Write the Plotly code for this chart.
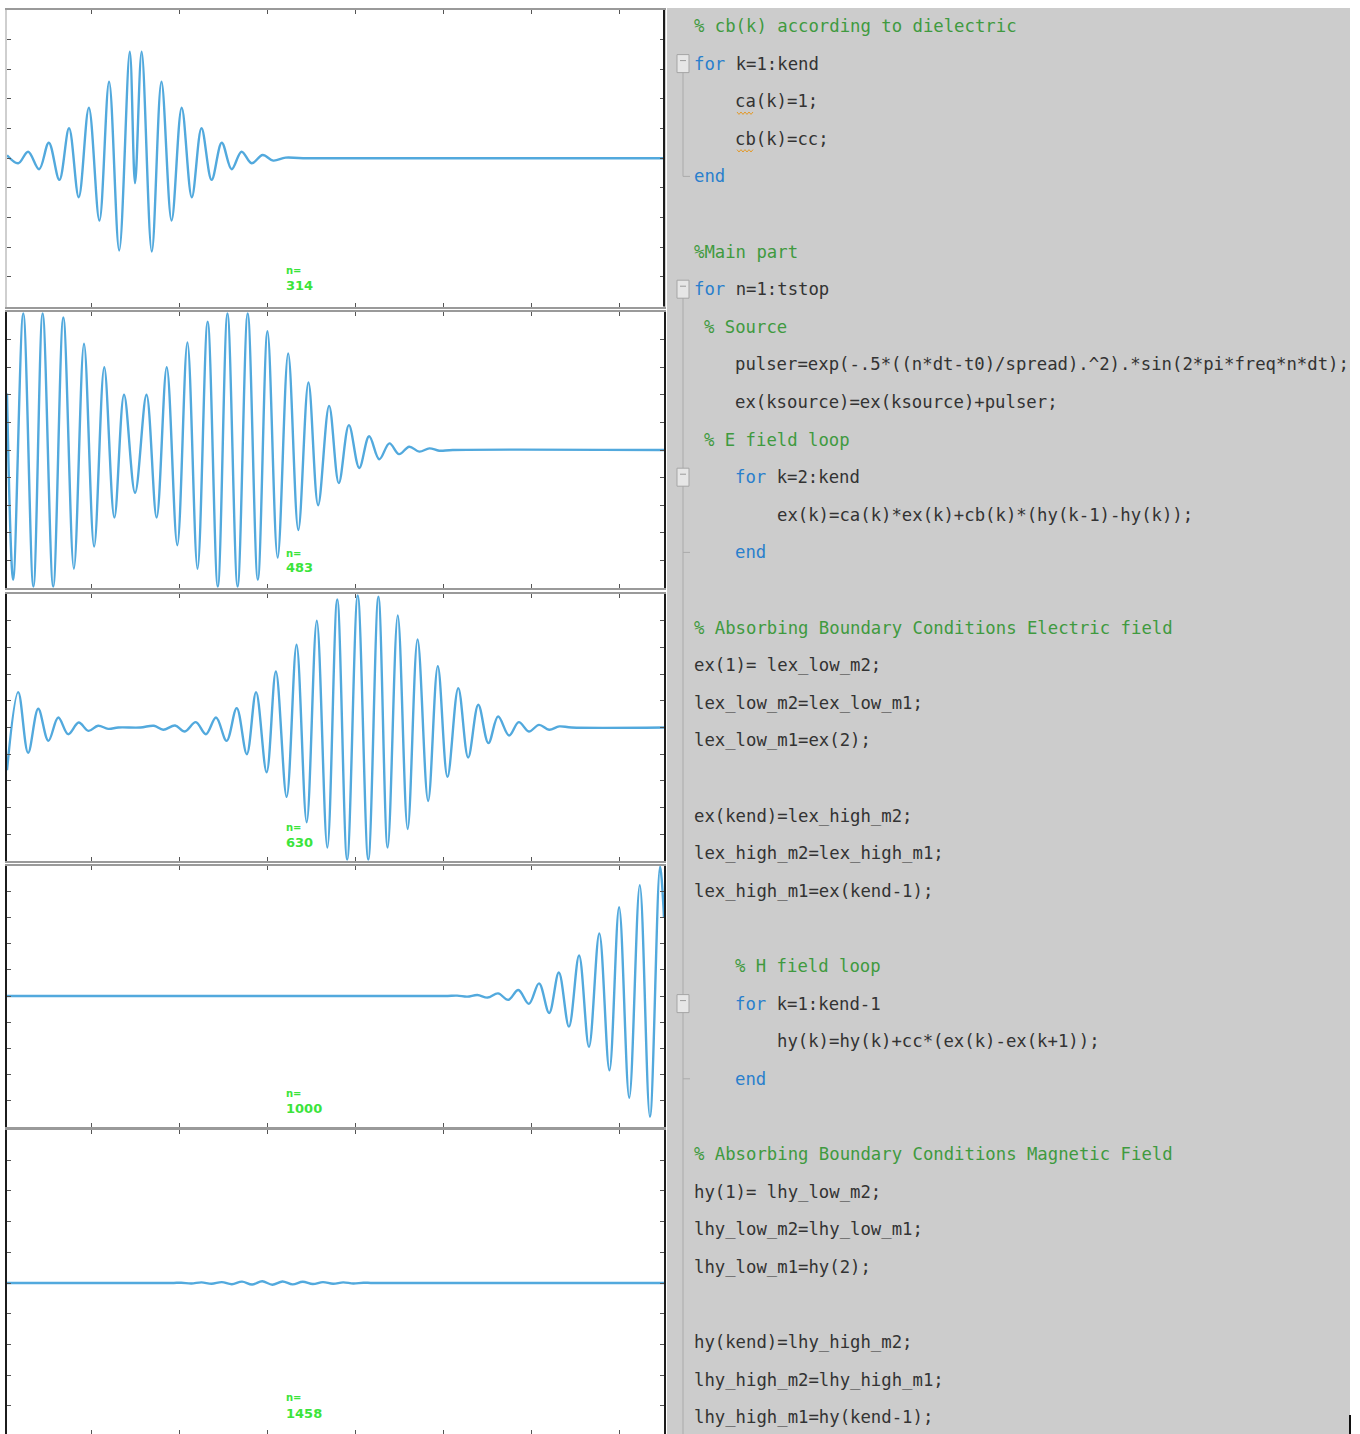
import plotly.graph_objects as go

W, H = 1360, 1434

# time step of each Ex snapshot
STEPS = [314, 483, 630, 1000, 1458]

# Ex(k) snapshots: cell index k and field amplitude at the turning points
K1 = [0.7, 3.25, 5.5, 8.0, 10.2, 12.6, 14.8, 17.0, 19.3, 21.7, 23.9, 26.2, 28.6, 29.8,
      31.3, 33.6, 35.8, 38.1, 40.4, 42.7, 44.9, 47.2, 49.5, 51.75, 54.0, 56.3, 58.8,
      61.2, 64.0, 68.0, 150]
E1 = [0.02, -0.034, 0.044, -0.074, 0.105, -0.146, 0.202, -0.263, 0.341, -0.420, 0.516,
      -0.622, 0.718, -0.168, 0.718, -0.629, 0.516, -0.420, 0.341, -0.263, 0.202, -0.146,
      0.105, -0.074, 0.044, -0.034, 0.022, -0.016, 0.004, 0.0, 0.0]

K2 = [0.7, 2.1, 4.4, 6.7, 8.8, 11.2, 13.5, 15.9, 18.2, 20.5, 22.8, 25.1, 27.3, 29.8,
      32.4, 34.7, 37.0, 39.4, 41.7, 44.0, 46.3, 48.6, 50.8, 53.1, 55.4, 57.7, 59.9,
      62.2, 64.6, 66.9, 69.2, 71.4, 73.9, 76.1, 78.4, 80.75, 83.0, 85.3, 87.6, 89.8,
      92.1, 94.4, 96.7, 98.9, 102.0, 150]
E2 = [0.41, -0.94, 0.99, -0.99, 0.99, -0.99, 0.96, -0.86, 0.77, -0.70, 0.60, -0.49,
      0.40, -0.31, 0.40, -0.49, 0.60, -0.69, 0.78, -0.86, 0.93, -0.99, 0.99, -0.99,
      0.99, -0.94, 0.86, -0.78, 0.70, -0.58, 0.49, -0.40, 0.32, -0.24, 0.18, -0.13,
      0.10, -0.067, 0.048, -0.03, 0.024, -0.012, 0.012, -0.005, 0.0, 0.0]

K3 = [0.7, 3.25, 5.5, 7.8, 10.1, 12.35, 14.6, 17.0, 19.2, 21.4, 23.7, 26.0, 31.0, 34.1,
      36.2, 38.9, 41.1, 43.6, 45.9, 48.2, 50.6, 52.9, 55.2, 57.3, 59.7, 61.8, 64.25,
      66.5, 68.8, 71.1, 73.5, 75.75, 78.0, 80.4, 82.8, 85.1, 87.2, 89.5, 91.75, 94.0,
      96.4, 98.6, 100.8, 103.25, 105.5, 107.8, 110.1, 112.3, 114.8, 117.0, 119.3,
      121.6, 123.9, 126.2, 129.0, 150]
E3 = [-0.32, 0.265, -0.19, 0.14, -0.10, 0.075, -0.05, 0.037, -0.025, 0.013, -0.01, 0.0,
      0.0, 0.013, -0.017, 0.015, -0.03, 0.04, -0.05, 0.075, -0.10, 0.145, -0.20, 0.265,
      -0.335, 0.42, -0.52, 0.62, -0.71, 0.80, -0.90, 0.96, -0.99, 0.99, -0.99, 0.98,
      -0.90, 0.84, -0.76, 0.66, -0.55, 0.46, -0.37, 0.295, -0.225, 0.17, -0.117, 0.082,
      -0.06, 0.04, -0.03, 0.02, -0.017, 0.008, 0.0, 0.0]

K4 = [0.7, 100.0, 103.0, 105.3, 107.6, 109.9, 112.3, 114.6, 116.9, 119.3, 121.6, 123.9,
      126.1, 128.4, 130.7, 132.95, 135.3, 137.6, 139.8, 142.1, 144.5, 146.8, 149.1, 150]
E4 = [0.0, 0.0, 0.003, -0.005, 0.008, -0.012, 0.02, -0.03, 0.046, -0.06, 0.097, -0.13,
      0.18, -0.235, 0.31, -0.39, 0.48, -0.57, 0.68, -0.78, 0.85, -0.925, 0.99, 0.6]

K5 = [0.7, 38.0, 40.3, 42.6, 44.9, 47.2, 49.5, 51.8, 54.1, 56.4, 58.7, 61.0, 63.3, 65.6,
      67.9, 70.2, 72.5, 74.8, 77.1, 79.4, 81.7, 84.0, 150]
E5 = [0.0, 0.0, 0.002, -0.003, 0.004, -0.005, 0.006, -0.008, 0.009, -0.010, 0.011,
      -0.011, 0.010, -0.009, 0.008, -0.007, 0.006, -0.005, 0.004, -0.003, 0.002, 0.0, 0.0]

SNAPSHOTS = [(K1, E1), (K2, E2), (K3, E3), (K4, E4), (K5, E5)]
X_TICKS = [20, 40, 60, 80, 100, 120, 140]
Y_TICKS = [-0.8, -0.6, -0.4, -0.2, 0, 0.2, 0.4, 0.6, 0.8]

# editor listing: indent level and (style, text) runs
CODE = [
    (0, [("c", "% cb(k) according to dielectric")]),
    (0, [("k", "for\u00a0"), ("t", "k=1:kend")]),
    (1, [("t", "ca(k)=1;")]),
    (1, [("t", "cb(k)=cc;")]),
    (0, [("k", "end")]),
    (0, []),
    (0, [("c", "%Main part")]),
    (0, [("k", "for\u00a0"), ("t", "n=1:tstop")]),
    (0.5, [("c", "% Source")]),
    (1, [("t", "pulser=exp(-.5*((n*dt-t0)/spread).^2).*sin(2*pi*freq*n*dt);")]),
    (1, [("t", "ex(ksource)=ex(ksource)+pulser;")]),
    (0.5, [("c", "% E field loop")]),
    (1, [("k", "for\u00a0"), ("t", "k=2:kend")]),
    (2, [("t", "ex(k)=ca(k)*ex(k)+cb(k)*(hy(k-1)-hy(k));")]),
    (1, [("k", "end")]),
    (0, []),
    (0, [("c", "% Absorbing Boundary Conditions Electric field")]),
    (0, [("t", "ex(1)=\u00a0lex_low_m2;")]),
    (0, [("t", "lex_low_m2=lex_low_m1;")]),
    (0, [("t", "lex_low_m1=ex(2);")]),
    (0, []),
    (0, [("t", "ex(kend)=lex_high_m2;")]),
    (0, [("t", "lex_high_m2=lex_high_m1;")]),
    (0, [("t", "lex_high_m1=ex(kend-1);")]),
    (0, []),
    (1, [("c", "% H field loop")]),
    (1, [("k", "for\u00a0"), ("t", "k=1:kend-1")]),
    (2, [("t", "hy(k)=hy(k)+cc*(ex(k)-ex(k+1));")]),
    (1, [("k", "end")]),
    (0, []),
    (0, [("c", "% Absorbing Boundary Conditions Magnetic Field")]),
    (0, [("t", "hy(1)=\u00a0lhy_low_m2;")]),
    (0, [("t", "lhy_low_m2=lhy_low_m1;")]),
    (0, [("t", "lhy_low_m1=hy(2);")]),
    (0, []),
    (0, [("t", "hy(kend)=lhy_high_m2;")]),
    (0, [("t", "lhy_high_m2=lhy_high_m1;")]),
    (0, [("t", "lhy_high_m1=hy(kend-1);")]),
]
FOLD_LINES = [1, 7, 12, 26]
INNER_END_LINES = [14, 28]


def fx(px):
    return px / W


def fy(py):
    return 1 - py / H


fig = go.Figure()
layout = dict(
    width=W, height=H, margin=dict(l=0, r=0, t=0, b=0),
    paper_bgcolor="white", plot_bgcolor="white", showlegend=False,
)
shapes = []
annotations = []

# ---- field snapshots -------------------------------------------------------
panel_px = [(10, 306.5), (312, 588), (594, 861), (865.5, 1126.5), (1129.5, 1436.5)]
left_dark = [False, True, True, True, True]
right_dark = [True, True, False, False, True]
X0, X1 = 7, 664
label_y = [(270, 285), (554, 568), (827, 842), (1093, 1108), (1397, 1413)]

for i, ((k, e), (top, bot)) in enumerate(zip(SNAPSHOTS, panel_px), start=1):
    half = (bot - top) / 2
    lo = -1.0
    bot_c = bot
    if bot > H:
        bot_c = H
        lo = 1 - (H - top) / half
    fig.add_trace(go.Scatter(
        x=k, y=e, mode="lines",
        line=dict(color="#52a9dd", width=2.4, shape="spline", smoothing=1.0),
        xaxis=f"x{i}", yaxis=f"y{i}", hoverinfo="skip",
    ))
    common = dict(showline=True, mirror="ticks", ticks="inside", ticklen=4, tickwidth=1,
                  tickcolor="#555555", showticklabels=False, showgrid=False,
                  zeroline=False, fixedrange=True)
    layout[f"xaxis{i}"] = dict(domain=[fx(X0), fx(X1)], range=[0.7, 150],
                               tickvals=X_TICKS, linecolor="#9a9a9a", linewidth=2,
                               anchor=f"y{i}", **common)
    layout[f"yaxis{i}"] = dict(domain=[fy(bot_c), fy(top)], range=[lo, 1],
                               tickvals=Y_TICKS,
                               linecolor="#1c1c1c" if left_dark[i - 1] else "#cfcfcf",
                               linewidth=2, anchor=f"x{i}", **common)
    if right_dark[i - 1] and not left_dark[i - 1]:
        shapes.append(dict(type="line", xref="paper", yref="paper",
                           x0=fx(X1), x1=fx(X1), y0=fy(bot_c), y1=fy(top),
                           line=dict(color="#1c1c1c", width=2)))
    ly1, ly2 = label_y[i - 1]
    annotations.append(dict(text="<b>n=</b>", xref="paper", yref="paper",
                            x=fx(285), y=fy(ly1), xanchor="left", yanchor="middle",
                            showarrow=False, borderpad=0,
                            font=dict(family="DejaVu Sans", size=10, color="#3be43b")))
    annotations.append(dict(text=f"<b>{STEPS[i - 1]}</b>", xref="paper", yref="paper",
                            x=fx(285), y=fy(ly2), xanchor="left", yanchor="middle",
                            showarrow=False, borderpad=0,
                            font=dict(family="DejaVu Sans", size=13, color="#3be43b")))

# ---- editor listing --------------------------------------------------------
shapes.append(dict(type="rect", xref="paper", yref="paper", layer="below",
                   x0=fx(667), x1=fx(1350), y0=0, y1=fy(8),
                   fillcolor="#cccccc", line=dict(width=0)))
shapes.append(dict(type="line", xref="paper", yref="paper",
                   x0=fx(1350), x1=fx(1350), y0=0, y1=fy(1415),
                   line=dict(color="#111111", width=2)))

COLORS = {"c": "#3f9a3f", "k": "#2a7fcc", "t": "#333333"}
INDENT_PX = {0: 694, 0.5: 704, 1: 735, 2: 777}
LINE0, LINE_STEP = 26, 37.6


def line_y(n):
    return LINE0 + LINE_STEP * n


for n, (lvl, runs) in enumerate(CODE):
    if not runs:
        continue
    txt = "".join(f"<span style='color:{COLORS[s]}'>{t}</span>" for s, t in runs)
    annotations.append(dict(text=txt, xref="paper", yref="paper",
                            x=fx(INDENT_PX[lvl] - 2), y=fy(line_y(n)),
                            xanchor="left", yanchor="middle", showarrow=False,
                            font=dict(family="DejaVu Sans Mono", size=17.3,
                                      color=COLORS["t"])))

# code-folding gutter
GUT = 683
gut = dict(color="#aaaaaa", width=1)
shapes.append(dict(type="line", xref="paper", yref="paper", x0=fx(GUT), x1=fx(GUT),
                   y0=fy(line_y(4)), y1=fy(line_y(1) + 8), line=gut))
shapes.append(dict(type="line", xref="paper", yref="paper", x0=fx(GUT), x1=fx(GUT + 7),
                   y0=fy(line_y(4)), y1=fy(line_y(4)), line=gut))
shapes.append(dict(type="line", xref="paper", yref="paper", x0=fx(GUT), x1=fx(GUT),
                   y0=0, y1=fy(line_y(7) + 8), line=gut))
for n in INNER_END_LINES:
    shapes.append(dict(type="line", xref="paper", yref="paper", x0=fx(GUT),
                       x1=fx(GUT + 7), y0=fy(line_y(n)), y1=fy(line_y(n)), line=gut))
for n in FOLD_LINES:
    yc = line_y(n)
    shapes.append(dict(type="rect", xref="paper", yref="paper",
                       x0=fx(GUT - 6), x1=fx(GUT + 6), y0=fy(yc + 9), y1=fy(yc - 9),
                       fillcolor="#e6e6e6", line=dict(color="#a5a5a5", width=1)))
    shapes.append(dict(type="line", xref="paper", yref="paper", x0=fx(GUT - 3),
                       x1=fx(GUT + 3), y0=fy(yc - 3), y1=fy(yc - 3),
                       line=dict(color="#9a9a9a", width=1)))

# warning squiggles under ca / cb
for n in (2, 3):
    yb = line_y(n) + 12
    pts = []
    for j in range(9):
        xx = 737 + 2 * j
        yy = yb + (1.2 if j % 2 else -1.2)
        pts.append(f"{fx(xx):.5f},{fy(yy):.5f}")
    shapes.append(dict(type="path", xref="paper", yref="paper",
                       path="M " + " L ".join(pts),
                       line=dict(color="#e39a2a", width=1)))

layout["shapes"] = shapes
layout["annotations"] = annotations
fig.update_layout(**layout)
fig.write_html("out.html")
